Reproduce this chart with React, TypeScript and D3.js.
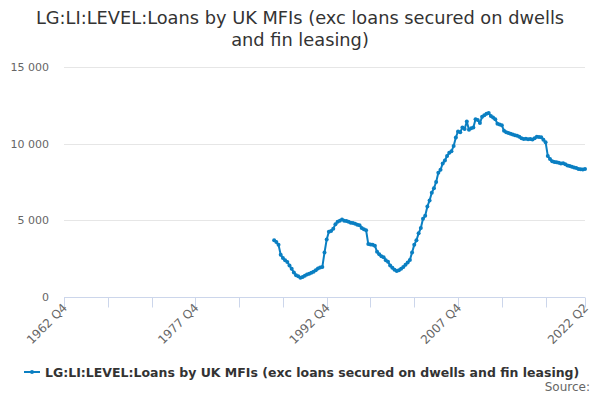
import { useEffect, useRef } from 'react'
import * as d3 from 'd3'

// quarterly categories run from 1962 Q4 to 2022 Q2
const firstYear = 1962
const firstQuarter = 4
const quarterCount = 239
const labelTicks = ['1962 Q4', '1977 Q4', '1992 Q4', '2007 Q4', '2022 Q2']
const yTicks = [0, 5000, 10000, 15000]

// series starts at 1986 Q4
const seriesStart = '1986 Q4'
const seriesValues = [
  3700, 3580, 3400, 2750, 2550, 2400, 2280, 2050, 1850, 1600, 1420, 1350, 1250, 1300, 1380, 1460,
  1520, 1580, 1650, 1740, 1860, 1930, 1950, 2900, 3750, 4250, 4300, 4450, 4750, 4900, 4980, 5050,
  4980, 4950, 4900, 4850, 4820, 4780, 4720, 4680, 4500, 4420, 4360, 3450, 3420, 3400, 3350, 2950,
  2780, 2650, 2600, 2400, 2300, 2050, 1900, 1780, 1700, 1750, 1850, 1950, 2100, 2250, 2420, 2900,
  3400, 3700, 4150, 4500, 5100, 5300, 5900, 6300, 6800, 7100, 7500, 8100, 8300, 8700, 8900, 9200,
  9400, 9500, 9850, 10400, 10800, 10750, 11050, 10950, 11450, 10900, 11000, 11050, 11600, 11550, 11350, 11750,
  11850, 11950, 12000, 11800, 11700, 11600, 11300, 11250, 11200, 10850, 10750, 10700, 10650, 10600, 10550, 10520,
  10450, 10350, 10300, 10320, 10280, 10300, 10270, 10350, 10450, 10430, 10420, 10250, 10100, 9200, 9000, 8850,
  8800, 8780, 8750, 8700, 8720, 8650, 8580, 8550, 8500, 8450, 8420, 8350, 8330, 8320, 8350,
]

const seriesName = 'LG:LI:LEVEL:Loans by UK MFIs (exc loans secured on dwells and fin leasing)'
const titleLines = ['LG:LI:LEVEL:Loans by UK MFIs (exc loans secured on dwells', 'and fin leasing)']

const quarters = d3.range(quarterCount).map((i) => {
  const q = firstQuarter - 1 + i
  return `${firstYear + Math.floor(q / 4)} Q${(q % 4) + 1}`
})

export default function App() {
  const ref = useRef<SVGSVGElement>(null)

  const width = 600
  const height = 400
  const margins = { top: 67, right: 15, bottom: 103, left: 64 }
  const color = '#0a7fc2'
  const font = 'DejaVu Sans, sans-serif'

  useEffect(() => {
    if (!ref.current) return
    const svg = d3.select(ref.current)
    svg.selectAll('*').remove()

    const x = d3
      .scaleLinear()
      .domain([0, quarterCount - 1])
      .range([margins.left, width - margins.right])

    const y = d3
      .scaleLinear()
      .domain([0, 15000])
      .range([height - margins.bottom, margins.top])

    // title
    svg
      .append('text')
      .attr('x', width / 2)
      .attr('y', 24)
      .attr('text-anchor', 'middle')
      .style('font', `17.8px ${font}`)
      .style('fill', '#333')
      .selectAll('tspan')
      .data(titleLines)
      .enter()
      .append('tspan')
      .attr('x', width / 2)
      .attr('dy', (_d, i) => (i === 0 ? 0 : 22))
      .text((d) => d)

    // grid lines
    svg
      .append('g')
      .selectAll('line')
      .data(yTicks.filter((d) => d > 0))
      .enter()
      .append('line')
      .attr('x1', margins.left)
      .attr('x2', width - margins.right)
      .attr('y1', (d) => Math.round(y(d)) + 0.5)
      .attr('y2', (d) => Math.round(y(d)) + 0.5)
      .attr('stroke', '#e6e6e6')

    // y labels
    const fmt = (d: number) => d3.format(',')(d).replace(/,/g, ' ')
    svg
      .append('g')
      .selectAll('text')
      .data(yTicks)
      .enter()
      .append('text')
      .attr('x', margins.left - 15)
      .attr('y', (d) => y(d) + 4)
      .attr('text-anchor', 'end')
      .style('font', `11px ${font}`)
      .style('fill', '#666')
      .text((d) => fmt(d))

    // x axis line and ticks (every 5 years)
    const axisY = Math.round(y(0)) + 0.5
    svg
      .append('line')
      .attr('x1', margins.left)
      .attr('x2', width - margins.right)
      .attr('y1', axisY)
      .attr('y2', axisY)
      .attr('stroke', '#ccd6eb')

    const tickIdx = d3.range(0, quarterCount, 20).concat([quarterCount - 1])
    svg
      .append('g')
      .selectAll('line')
      .data(tickIdx)
      .enter()
      .append('line')
      .attr('x1', (d) => Math.round(x(d)) + 0.5)
      .attr('x2', (d) => Math.round(x(d)) + 0.5)
      .attr('y1', axisY)
      .attr('y2', axisY + 10)
      .attr('stroke', '#ccd6eb')

    svg
      .append('g')
      .selectAll('text')
      .data(labelTicks)
      .enter()
      .append('text')
      .attr('text-anchor', 'end')
      .attr('transform', (d) => `translate(${x(quarters.indexOf(d)) + 4},${axisY + 11}) rotate(-45)`)
      .style('font', `12px ${font}`)
      .style('fill', '#666')
      .text((d) => d)

    // series
    const start = quarters.indexOf(seriesStart)
    const points = seriesValues.map((v, i) => ({ i: start + i, v }))
    const line = d3
      .line<{ i: number; v: number }>()
      .x((d) => x(d.i))
      .y((d) => y(d.v))

    svg
      .append('path')
      .datum(points)
      .attr('d', line)
      .attr('fill', 'none')
      .attr('stroke', color)
      .attr('stroke-width', 2)
      .attr('stroke-linejoin', 'round')

    svg
      .append('g')
      .selectAll('circle')
      .data(points)
      .enter()
      .append('circle')
      .attr('cx', (d) => x(d.i))
      .attr('cy', (d) => y(d.v))
      .attr('r', 2)
      .attr('fill', color)

    // legend
    const legend = svg.append('g').attr('transform', 'translate(24,372)')
    legend
      .append('line')
      .attr('x1', 0)
      .attr('x2', 16)
      .attr('y1', 0)
      .attr('y2', 0)
      .attr('stroke', color)
      .attr('stroke-width', 2)
    legend.append('circle').attr('cx', 8).attr('cy', 0).attr('r', 2).attr('fill', color)
    legend
      .append('text')
      .attr('x', 21)
      .attr('y', 4.5)
      .style('font', `bold 12.5px ${font}`)
      .style('fill', '#333')
      .text(seriesName)

    // credits
    svg
      .append('text')
      .attr('x', width - 10)
      .attr('y', 391)
      .attr('text-anchor', 'end')
      .style('font', `12px ${font}`)
      .style('fill', '#666')
      .text('Source:')
  }, [])

  return <svg ref={ref} width={width} height={height} style={{ display: 'block', margin: -8 }} />
}
